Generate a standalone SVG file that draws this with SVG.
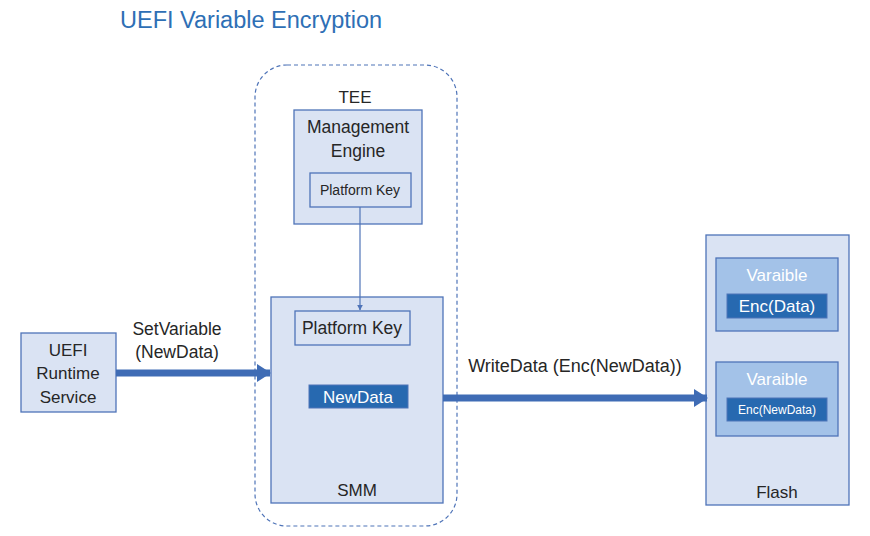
<svg xmlns="http://www.w3.org/2000/svg" width="870" height="536" viewBox="0 0 870 536">
<defs>
<style>
text{font-family:"Liberation Sans","Open Sans",sans-serif;fill:#262626;text-anchor:middle}
.box{fill:#dae3f3;stroke:#4f74b8;stroke-width:1.3}
.var{fill:#a3c2e8;stroke:#4f74b8;stroke-width:1.3}
.dark{fill:#2769b0;stroke:#4f74b8;stroke-width:1}
.wt{fill:#ffffff}
.thick{stroke:#3f6cb5;stroke-width:7;fill:none}
</style>
<marker id="big" viewBox="0 0 14 18" refX="13" refY="9" markerWidth="14" markerHeight="18" orient="auto" markerUnits="userSpaceOnUse">
<path d="M0,0L14,9L0,18z" fill="#3f6cb5"/>
</marker>
<marker id="small" viewBox="0 0 10 10" refX="9" refY="5" markerWidth="6" markerHeight="6" orient="auto" markerUnits="userSpaceOnUse">
<path d="M0,0L10,5L0,10z" fill="#4f74b8"/>
</marker>
</defs>
<rect width="870" height="536" fill="#ffffff"/>
<text x="120" y="28" style="text-anchor:start;fill:#2e6fb5;font-size:23.5px">UEFI Variable Encryption</text>

<g id="tee">
<rect x="255" y="65" width="202" height="461" rx="32" fill="none" stroke="#4f74b8" stroke-width="1.2" stroke-dasharray="4,3"/>
<text x="355" y="103" style="font-size:17px">TEE</text>
</g>

<g id="me">
<rect class="box" x="294" y="110" width="128" height="114"/>
<text x="358" y="133" style="font-size:17.5px">Management</text>
<text x="358" y="157" style="font-size:17.5px">Engine</text>
</g>
<g id="pk1">
<rect class="box" x="310" y="173" width="101" height="34"/>
<text x="360" y="195" style="font-size:14px">Platform Key</text>
</g>

<g id="smm">
<rect class="box" x="271" y="297" width="172" height="206"/>
<text x="357" y="496" style="font-size:17px">SMM</text>
</g>
<g id="pk2">
<rect class="box" x="295" y="311" width="115" height="34"/>
<text x="352" y="334" style="font-size:17.5px">Platform Key</text>
</g>
<g id="newdata">
<rect class="dark" x="309" y="385" width="99" height="23"/>
<text class="wt" x="358" y="403" style="font-size:17px">NewData</text>
</g>

<g id="uefi">
<rect class="box" x="21" y="333" width="95" height="79"/>
<text x="68" y="356" style="font-size:17px">UEFI</text>
<text x="68" y="379" style="font-size:17px">Runtime</text>
<text x="68" y="403" style="font-size:17px">Service</text>
</g>

<g id="flash">
<rect class="box" x="706" y="235" width="143" height="270"/>
<text x="777" y="498" style="font-size:17px">Flash</text>
</g>
<g id="var1">
<rect class="var" x="716" y="258" width="122" height="73"/>
<text class="wt" x="777" y="281" style="font-size:17px">Varaible</text>
<rect class="dark" x="727" y="294" width="100" height="24"/>
<text class="wt" x="777" y="312" style="font-size:17px">Enc(Data)</text>
</g>
<g id="var2">
<rect class="var" x="716" y="362" width="122" height="74"/>
<text class="wt" x="777" y="385" style="font-size:17px">Varaible</text>
<rect class="dark" x="727" y="398" width="100" height="23"/>
<text class="wt" x="777" y="414" style="font-size:12px">Enc(NewData)</text>
</g>

<g id="connectors">
<line x1="360" y1="207" x2="360" y2="310" stroke="#4f74b8" stroke-width="1.2" marker-end="url(#small)"/>
<line class="thick" x1="116" y1="373" x2="270" y2="373" marker-end="url(#big)"/>
<text x="177" y="335" style="font-size:17.5px">SetVariable</text>
<text x="177" y="358" style="font-size:17.5px">(NewData)</text>
<line class="thick" x1="443" y1="398" x2="707" y2="398" marker-end="url(#big)"/>
<text x="575" y="372" style="font-size:18px">WriteData (Enc(NewData))</text>
</g>
</svg>
